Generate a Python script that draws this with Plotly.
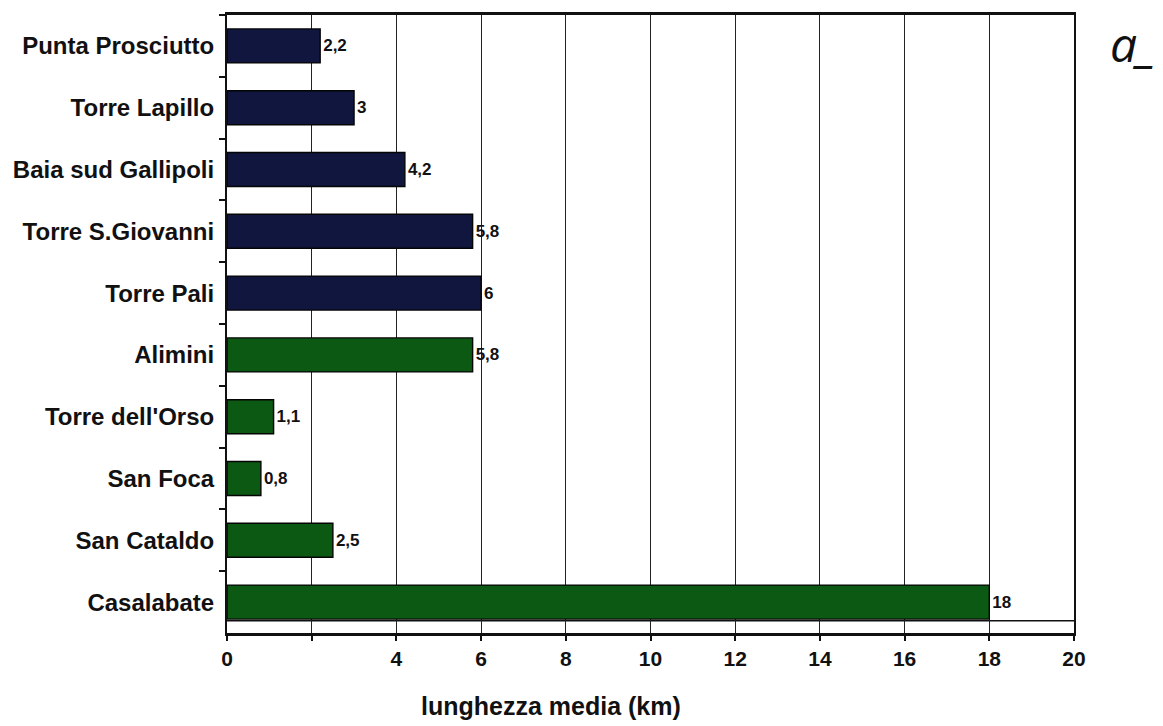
import plotly.graph_objects as go

# Località (dall'alto verso il basso) e lunghezza media in km
localita = [
    "Punta Prosciutto", "Torre Lapillo", "Baia sud Gallipoli", "Torre S.Giovanni",
    "Torre Pali", "Alimini", "Torre dell'Orso", "San Foca", "San Cataldo", "Casalabate",
]
lunghezza = [2.2, 3, 4.2, 5.8, 6, 5.8, 1.1, 0.8, 2.5, 18]
versante = ["ionico"] * 5 + ["adriatico"] * 5

x_tickvals = [0, 2, 4, 6, 8, 10, 12, 14, 16, 18, 20]
x_ticktext = ["0", "", "4", "6", "8", "10", "12", "14", "16", "18", "20"]

colori = {"ionico": "#11163f", "adriatico": "#0c5914"}
FONT = "Liberation Sans, Arial, sans-serif"

etichette = [f"{v:g}".replace(".", ",") for v in lunghezza]

fig = go.Figure(
    go.Bar(
        x=lunghezza,
        y=localita,
        orientation="h",
        width=0.55,
        marker=dict(color=[colori[v] for v in versante],
                    line=dict(color="#050505", width=1.4)),
        text=etichette,
        textposition="outside",
        textfont=dict(family=FONT, size=17, color="#111111", weight="bold"),
        cliponaxis=False,
        constraintext="none",
        hoverinfo="skip",
    )
)

# linea orizzontale sotto l'ultima barra
fig.add_shape(type="line", xref="paper", yref="y", x0=0, x1=1, y0=9.3, y1=9.3,
              line=dict(color="#111111", width=1.5), layer="below")

# titolo dell'asse x
fig.add_annotation(text="lunghezza media (km)", xref="paper", yref="paper",
                   x=(551 - 227) / (1074 - 227), y=-0.118,
                   xanchor="center", yanchor="middle", showarrow=False,
                   font=dict(family=FONT, size=25, weight="bold", color="#111111"))

fig.add_annotation(text="a_", xref="paper", yref="paper", x=1.04, y=1.01,
                   xanchor="left", yanchor="top", showarrow=False,
                   font=dict(family="Open Sans, sans-serif", size=48, color="#111111",
                             style="italic"))

fig.update_layout(
    width=1163, height=726,
    margin=dict(l=227, r=89, t=15, b=93),
    paper_bgcolor="white", plot_bgcolor="white",
    showlegend=False,
    font=dict(family=FONT, color="#111111"),
    bargap=0.45,
)

fig.update_xaxes(
    range=[0, 20],
    tickvals=x_tickvals, ticktext=x_ticktext,
    tickfont=dict(family=FONT, size=21, weight="bold", color="#111111"),
    ticks="outside", ticklen=5, tickwidth=2, tickcolor="#111111",
    showgrid=True, gridcolor="#222222", gridwidth=1.3,
    showline=True, linecolor="#111111", linewidth=2.5, mirror=True,
    zeroline=False,
)

fig.update_yaxes(
    autorange="reversed",
    categoryorder="array", categoryarray=localita,
    tickson="boundaries",
    ticks="outside", ticklen=6, tickwidth=2, tickcolor="#111111",
    ticklabelstandoff=6,
    tickfont=dict(family=FONT, size=24, weight="bold", color="#111111"),
    showgrid=False,
    showline=True, linecolor="#111111", linewidth=2, mirror=True,
)

fig.write_html("out.html")
